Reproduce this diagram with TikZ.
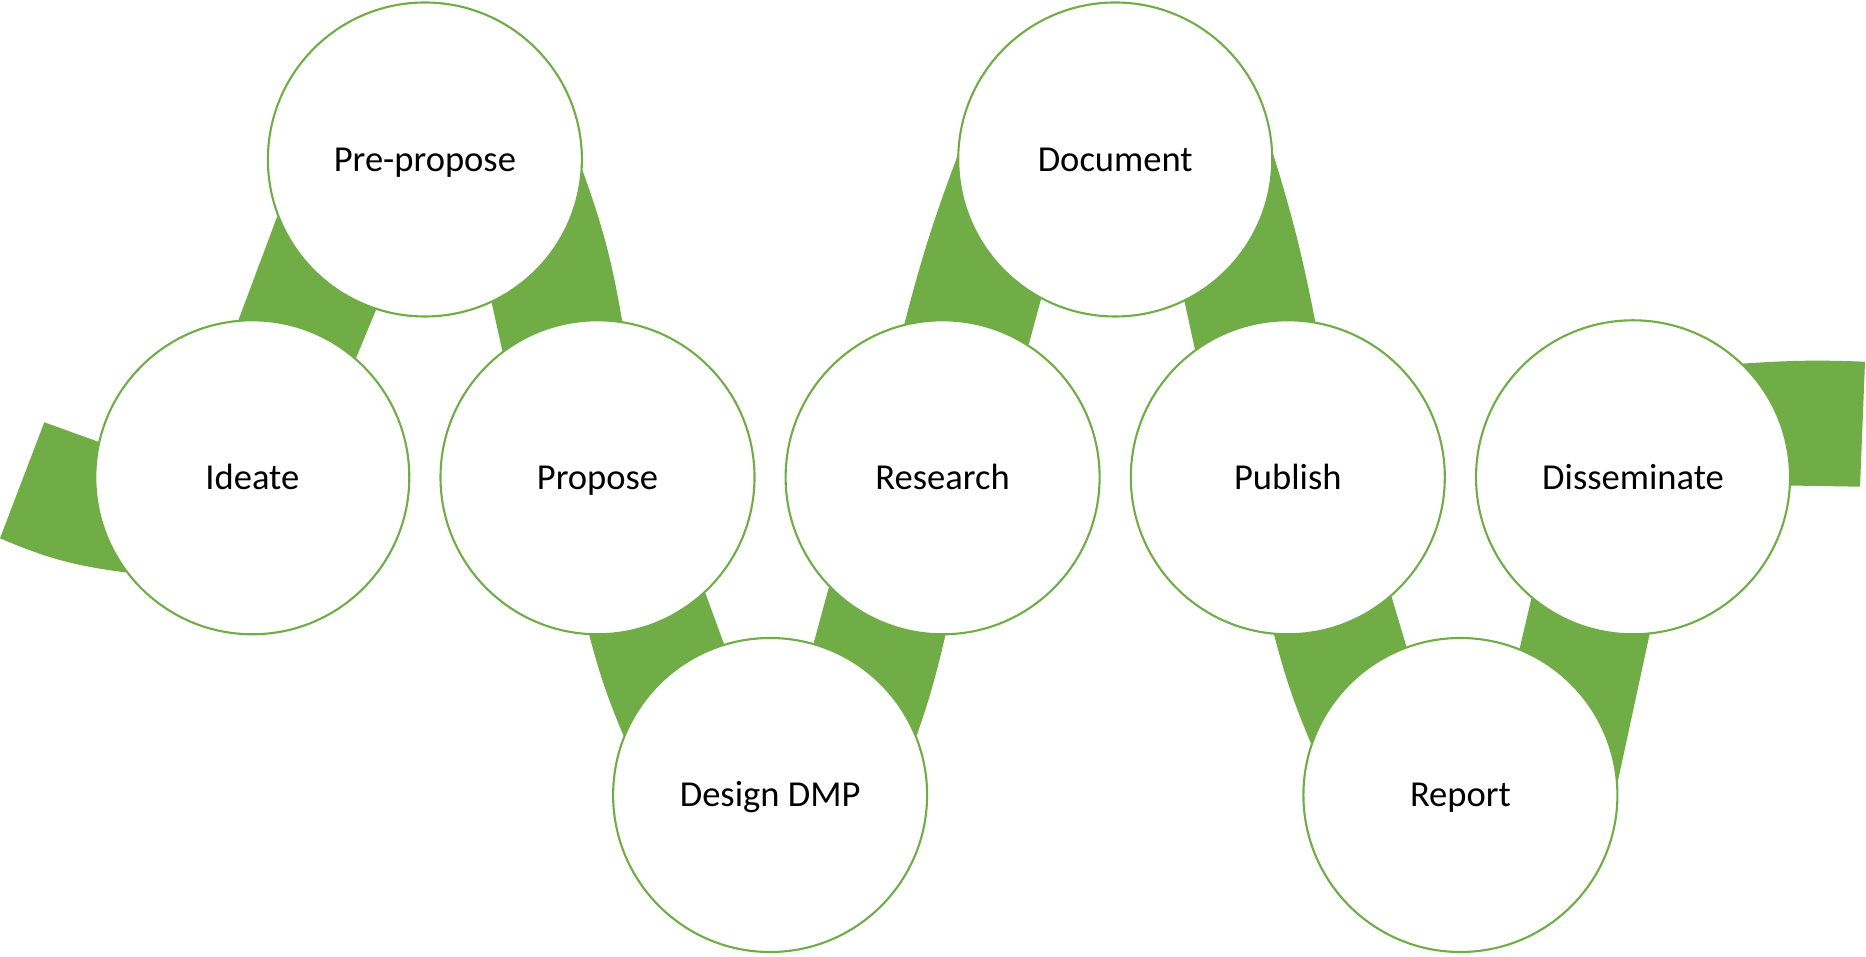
\documentclass[tikz,border=0pt]{standalone}
\usepackage{fontspec}
\setmainfont{Carlito}
\usetikzlibrary{backgrounds}
\definecolor{leafgreen}{HTML}{70AD47}
\tikzstyle{every node}=[font=\fontsize{10.4}{12}\selectfont]
\tikzstyle{stage}=[circle,draw=leafgreen,fill=white,line width=0.6pt,minimum size=3.14cm,inner sep=0pt,text height=6.7pt,text depth=0pt]
\tikzstyle{band}=[fill=leafgreen,draw=none]

\begin{document}
\begin{tikzpicture}
\useasboundingbox (0,0) rectangle (18.66,9.56);

\node[stage] (ideate) at (2.523,4.787) {Ideate};
\node[stage] (preprop) at (4.249,7.965) {Pre-propose};
\node[stage] (propose) at (5.975,4.787) {Propose};
\node[stage] (design) at (7.701,1.61) {Design DMP};
\node[stage] (research) at (9.426,4.787) {Research};
\node[stage] (document) at (11.152,7.965) {Document};
\node[stage] (publish) at (12.878,4.787) {Publish};
\node[stage] (report) at (14.604,1.61) {Report};
\node[stage] (dissem) at (16.33,4.787) {Disseminate};

\coordinate (inA) at (0.443,5.337);
\coordinate (inB) at (0,4.177);
\coordinate (outA) at (18.65,5.943);
\coordinate (outB) at (18.60,4.693);

% bands behind the circles
\begin{pgfonlayer}{background}
\fill[band] (inA) -- (ideate.167) -- (ideate.217) to[bend left=8] (inB) -- cycle;
\fill[band] (ideate.95) -- (preprop.201) -- (preprop.252) -- (ideate.49) -- cycle;
\fill[band] (preprop.295) -- (propose.127) -- (propose.81) to[bend right=5] (preprop.356) -- cycle;
\fill[band] (propose.267) to[bend right=4] (design.158) -- (design.107) -- (propose.313) -- cycle;
\fill[band] (design.74) -- (research.224) -- (research.271) to[bend left=3] (design.22) -- cycle;
\fill[band] (research.104) to[bend left=3] (document.179) -- (document.242) -- (research.57) -- cycle;
\fill[band] (document.296) -- (publish.126) -- (publish.80) to[bend right=3] (document.2) -- cycle;
\fill[band] (publish.265) to[bend right=4] (report.161) -- (report.110) -- (publish.311) -- cycle;
\fill[band] (report.68) -- (dissem.230) -- (dissem.276) -- (report.5) -- cycle;
\fill[band] (dissem.46) to[bend left=3] (outA) -- (outB) -- (dissem.357) -- cycle;
\end{pgfonlayer}
\end{tikzpicture}
\end{document}
